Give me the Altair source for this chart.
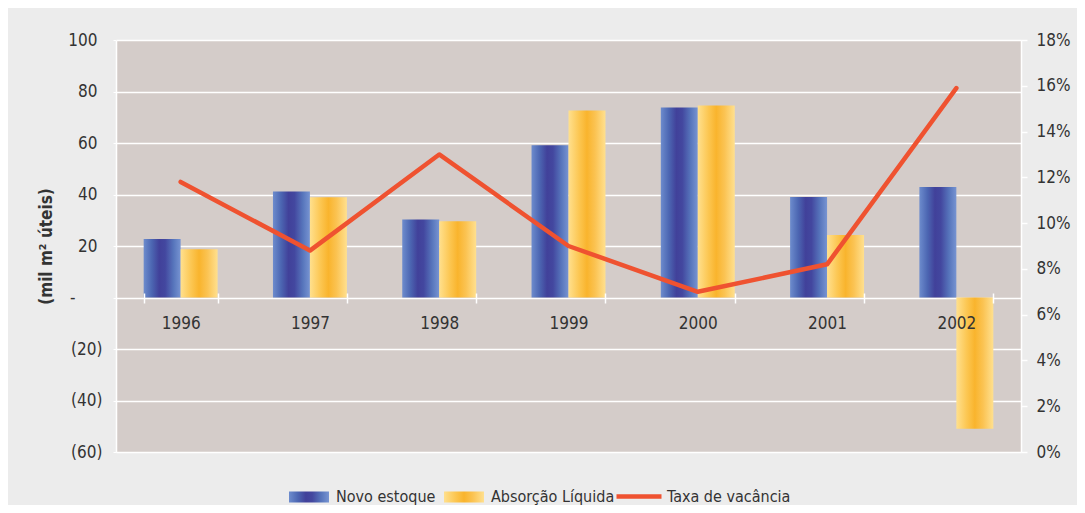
import altair as alt
import pandas as pd

anos = ["1996", "1997", "1998", "1999", "2000", "2001", "2002"]
novo_estoque = [22.7, 41.2, 30.3, 59.1, 73.8, 39.0, 42.9]
absorcao_liquida = [18.7, 38.9, 29.6, 72.6, 74.6, 24.3, -51.0]
taxa_vacancia = [0.118, 0.088, 0.130, 0.090, 0.070, 0.082, 0.159]
series = ["Novo estoque", "Absorção Líquida"]
serie_linha = "Taxa de vacância"

FONT = "DejaVu Sans Condensed"
TXT = "#333333"

bars_df = pd.DataFrame(
    [{"ano": a, "serie": series[0], "valor": v} for a, v in zip(anos, novo_estoque)]
    + [{"ano": a, "serie": series[1], "valor": v} for a, v in zip(anos, absorcao_liquida)]
)
line_df = pd.DataFrame({"ano": anos, "taxa": taxa_vacancia, "serie": serie_linha})

grad_blue = ("{gradient:'linear',x1:0,y1:0,x2:1,y2:0,stops:["
             "{offset:0,color:'#6d8ccd'},{offset:0.22,color:'#4c66b2'},"
             "{offset:0.42,color:'#41419a'},{offset:0.58,color:'#43479f'},"
             "{offset:0.8,color:'#5674bb'},{offset:1,color:'#7794d2'}]}")
grad_yellow = ("{gradient:'linear',x1:0,y1:0,x2:1,y2:0,stops:["
               "{offset:0,color:'#ffe08e'},{offset:0.28,color:'#fcc753'},"
               "{offset:0.5,color:'#f9b42d'},{offset:0.72,color:'#fbc352'},"
               "{offset:1,color:'#ffe08f'}]}")

x_scale = alt.Scale(domain=anos, paddingInner=0.428, paddingOuter=0.214)

bars = alt.Chart(bars_df).mark_bar().encode(
    x=alt.X("ano:N", scale=x_scale, sort=anos, title=None,
            axis=alt.Axis(offset=-159, domain=False, ticks=True, tickBand="extent",
                          tickColor="white", tickSize=10, tickWidth=1.5,
                          labelAngle=0, labelPadding=12, labelFont=FONT,
                          labelFontSize=17, labelColor=TXT, grid=False, zindex=1)),
    xOffset=alt.XOffset("serie:N", scale=alt.Scale(domain=series, paddingInner=0, paddingOuter=0),
                        sort=series),
    y=alt.Y("valor:Q", scale=alt.Scale(domain=[-60, 100], nice=False, zero=False),
            title="(mil m² úteis)",
            axis=alt.Axis(values=list(range(-60, 101, 20)),
                          labelExpr="datum.value == 0 ? '-' : (datum.value < 0 ? '(' + abs(datum.value) + ')' : datum.value)",
                          grid=True, gridColor="white", gridWidth=1.5, gridOpacity=1,
                          domain=True, domainColor="white", domainWidth=1.5,
                          ticks=True, tickColor="white", tickSize=3,
                          labelFont=FONT, labelFontSize=17, labelColor=TXT,
                          labelPadding={"condition": [{"test": "datum.value == 0", "value": 38},
                                                      {"test": "datum.value < 0", "value": 11}],
                                        "value": 16},
                          titleFont=FONT, titleFontSize=17, titleFontWeight="bold",
                          titleColor=TXT, titlePadding=12)),
    fill=alt.Fill("serie:N", sort=series,
                  scale=alt.Scale(domain=series,
                                  range=[alt.ExprRef(grad_blue), alt.ExprRef(grad_yellow)]),
                  legend=alt.Legend(title=None, orient="none", legendX=173, legendY=437,
                                    direction="horizontal",
                                    symbolType="M-1,-0.28H1V0.28H-1Z", symbolSize=1600,
                                    symbolStrokeWidth=0, labelOffset=7, columnPadding=8,
                                    labelFont=FONT, labelFontSize=16, labelColor=TXT)),
)

line = alt.Chart(line_df).mark_line(strokeWidth=4.5, strokeCap="round", strokeJoin="round").encode(
    x=alt.X("ano:N", scale=x_scale, sort=anos),
    y=alt.Y("taxa:Q", scale=alt.Scale(domain=[0, 0.18], nice=False), title=None,
            axis=alt.Axis(orient="right", values=[i / 100 for i in range(0, 19, 2)],
                          format=".0%", grid=False, domain=True, domainColor="white",
                          domainWidth=1.5, ticks=True, tickColor="white", tickSize=6,
                          tickWidth=1.5, labelFont=FONT, labelFontSize=17,
                          labelColor=TXT, labelPadding=9)),
    stroke=alt.Stroke("serie:N", scale=alt.Scale(domain=[serie_linha], range=["#ef5230"]),
                      legend=alt.Legend(title=None, orient="none", legendX=498, legendY=431.5,
                                        symbolType="stroke", symbolSize=2025,
                                        symbolStrokeWidth=4.5, labelOffset=3,
                                        labelFont=FONT, labelFontSize=16, labelColor=TXT)),
)

chart = alt.layer(bars, line).resolve_scale(
    y="independent", fill="independent", stroke="independent"
).properties(
    width=905, height=412,
    background="#ececec",
    padding={"left": 108, "top": 32, "right": 56, "bottom": 53},
    autosize=alt.AutoSizeParams(type="none"),
).configure_view(fill="#d4ccc9", stroke=None)

chart.save("out.html", embed_options={"renderer": "svg", "actions": False})
